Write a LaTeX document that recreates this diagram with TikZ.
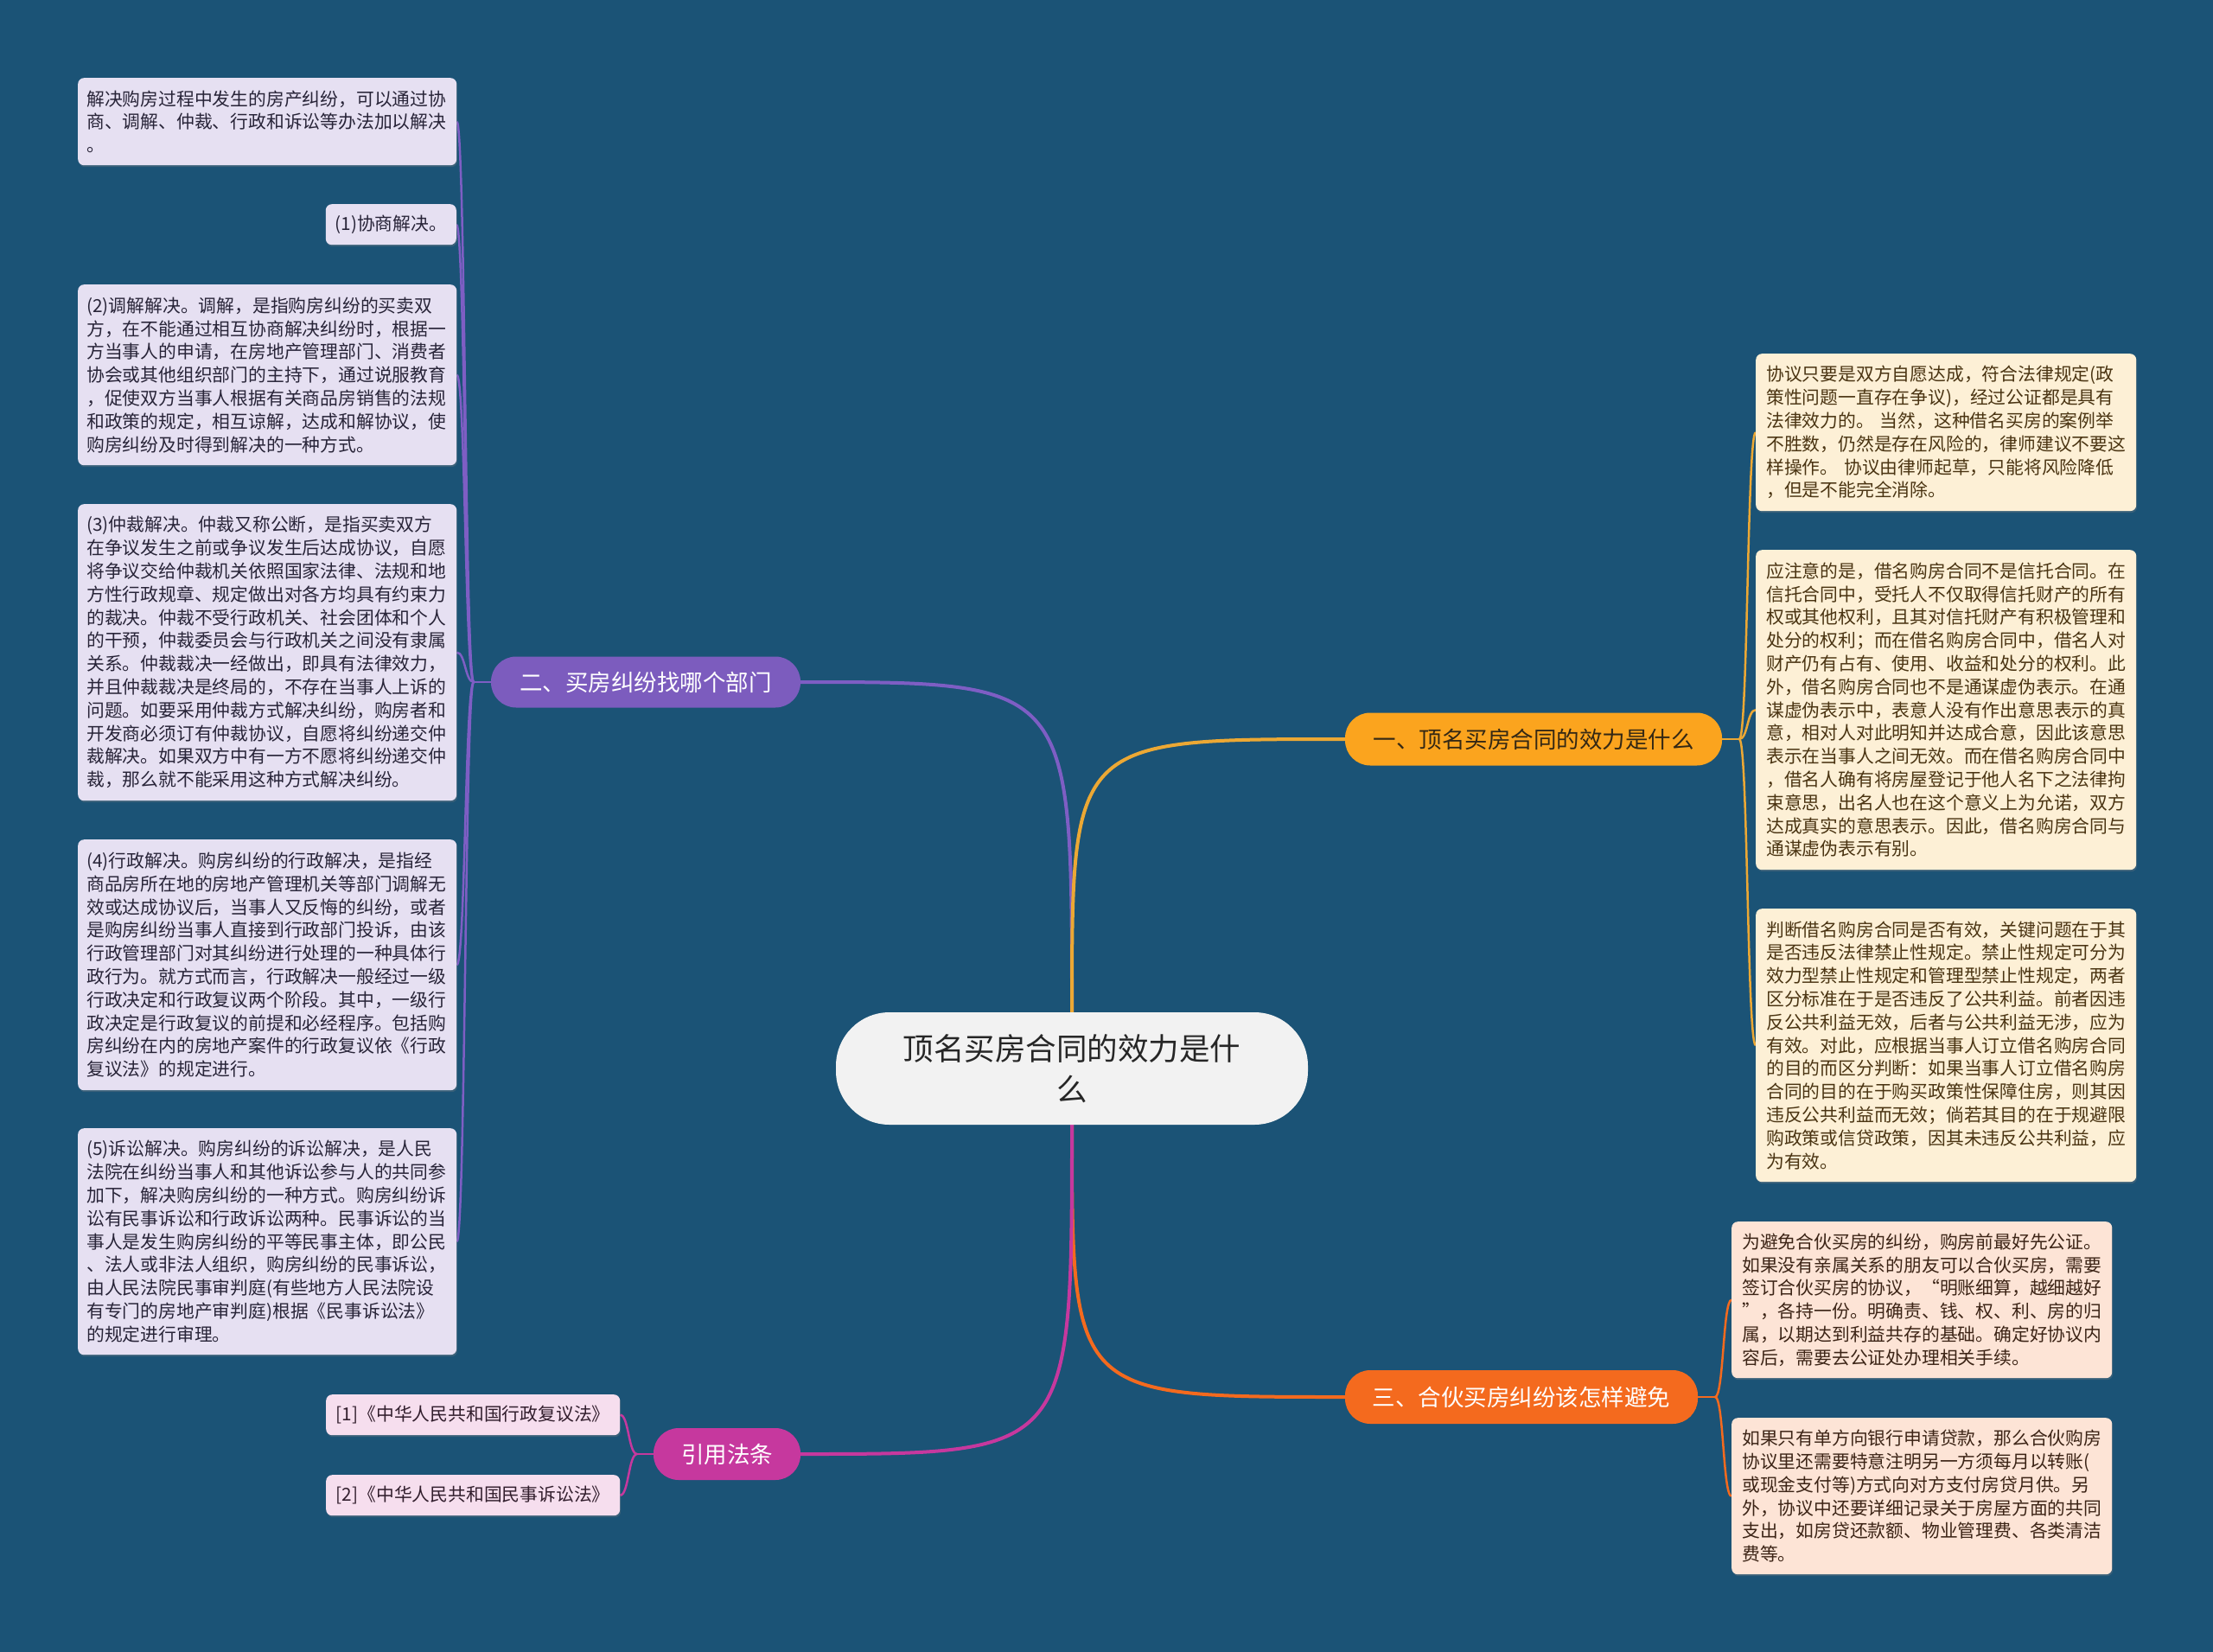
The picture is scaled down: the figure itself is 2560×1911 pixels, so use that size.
\documentclass[tikz,border=0pt]{standalone}
\usepackage{fontspec}
\setmainfont{Noto Sans CJK SC}
\usetikzlibrary{calc,shadows,backgrounds}
\definecolor{bgc}{RGB}{27,83,118}
\definecolor{cfill}{RGB}{242,242,242}
\definecolor{pur}{RGB}{124,92,190}
\definecolor{purline}{RGB}{126,94,196}
\definecolor{org}{RGB}{251,164,30}
\definecolor{orgline}{RGB}{236,168,52}
\definecolor{ored}{RGB}{244,106,30}
\definecolor{mag}{RGB}{198,56,158}
\definecolor{pleaf}{RGB}{230,224,242}
\definecolor{oleaf}{RGB}{253,240,214}
\definecolor{rleaf}{RGB}{253,228,214}
\definecolor{mleaf}{RGB}{246,222,238}
\definecolor{ptext}{RGB}{40,36,56}
\definecolor{otext}{RGB}{74,52,18}
\definecolor{rtext}{RGB}{60,36,22}
\definecolor{mtext}{RGB}{50,30,45}
\definecolor{btext}{RGB}{52,40,20}
\newcommand\lffont{\fontsize{20.8pt}{26.8pt}\selectfont}
\newcommand\brfont{\fontsize{26.5pt}{32pt}\selectfont}
\newcommand\ctfont{\fontsize{35.5pt}{47pt}\selectfont}
\begin{document}
\begin{tikzpicture}[x=1pt,y=-1pt,
  leafbox/.style={rounded corners=7pt, inner xsep=10pt, inner ysep=0pt, align=left, font=\lffont,
    drop shadow={opacity=0.3, shadow xshift=1pt, shadow yshift=-2pt}},
  pleafbox/.style={leafbox, fill=pleaf, text=ptext, anchor=north west, text width=418pt},
  oleafbox/.style={leafbox, fill=oleaf, text=otext, anchor=north west, inner xsep=12pt, text width=416pt},
  rleafbox/.style={leafbox, fill=rleaf, text=rtext, anchor=north west, inner xsep=12pt, text width=416pt},
  mleafbox/.style={leafbox, fill=mleaf, text=mtext, anchor=north west, minimum width=340pt, minimum height=47pt, align=center},
  branch/.style={rounded corners=29pt, inner sep=0pt, font=\brfont, align=center},
  mainline/.style={line width=4pt},
  leafline/.style={line width=2.5pt}
]
\useasboundingbox (0,0) rectangle (2560,1911);

% center
\node[fill=cfill, rounded corners=62pt, minimum width=546pt, minimum height=130pt, align=center,
  font=\ctfont, text=black!85] (C) at (1240,1236) {顶名买房合同的效力是什\\么};

% branches
\node[branch, fill=org, text=btext, minimum width=436pt, minimum height=61pt] (B1) at (1774,855) {一、顶名买房合同的效力是什么};
\node[branch, fill=pur, text=white, minimum width=358pt, minimum height=59pt] (B2) at (747,789) {二、买房纠纷找哪个部门};
\node[branch, fill=ored, text=white, minimum width=408pt, minimum height=62pt] (B3) at (1760,1616) {三、合伙买房纠纷该怎样避免};
\node[branch, fill=mag, text=white, minimum width=170pt, minimum height=60pt] (B4) at (841,1682) {引用法条};

% left leaves
\node[pleafbox, minimum height=101pt] (L0) at (90,90) {解决购房过程中发生的房产纠纷，可以通过协\\商、调解、仲裁、行政和诉讼等办法加以解决\\。};
\node[leafbox, fill=pleaf, text=ptext, anchor=north east, minimum width=151pt, minimum height=47pt, align=center] (L1) at (528,236) {(1)协商解决。};
\node[pleafbox, minimum height=209pt] (L2) at (90,329) {(2)调解解决。调解，是指购房纠纷的买卖双\\方，在不能通过相互协商解决纠纷时，根据一\\方当事人的申请，在房地产管理部门、消费者\\协会或其他组织部门的主持下，通过说服教育\\，促使双方当事人根据有关商品房销售的法规\\和政策的规定，相互谅解，达成和解协议，使\\购房纠纷及时得到解决的一种方式。};
\node[pleafbox, minimum height=343pt] (L3) at (90,583) {(3)仲裁解决。仲裁又称公断，是指买卖双方\\在争议发生之前或争议发生后达成协议，自愿\\将争议交给仲裁机关依照国家法律、法规和地\\方性行政规章、规定做出对各方均具有约束力\\的裁决。仲裁不受行政机关、社会团体和个人\\的干预，仲裁委员会与行政机关之间没有隶属\\关系。仲裁裁决一经做出，即具有法律效力，\\并且仲裁裁决是终局的，不存在当事人上诉的\\问题。如要采用仲裁方式解决纠纷，购房者和\\开发商必须订有仲裁协议，自愿将纠纷递交仲\\裁解决。如果双方中有一方不愿将纠纷递交仲\\裁，那么就不能采用这种方式解决纠纷。};
\node[pleafbox, minimum height=290pt] (L4) at (90,971) {(4)行政解决。购房纠纷的行政解决，是指经\\商品房所在地的房地产管理机关等部门调解无\\效或达成协议后，当事人又反悔的纠纷，或者\\是购房纠纷当事人直接到行政部门投诉，由该\\行政管理部门对其纠纷进行处理的一种具体行\\政行为。就方式而言，行政解决一般经过一级\\行政决定和行政复议两个阶段。其中，一级行\\政决定是行政复议的前提和必经程序。包括购\\房纠纷在内的房地产案件的行政复议依《行政\\复议法》的规定进行。};
\node[pleafbox, minimum height=262pt] (L5) at (90,1305) {(5)诉讼解决。购房纠纷的诉讼解决，是人民\\法院在纠纷当事人和其他诉讼参与人的共同参\\加下，解决购房纠纷的一种方式。购房纠纷诉\\讼有民事诉讼和行政诉讼两种。民事诉讼的当\\事人是发生购房纠纷的平等民事主体，即公民\\、法人或非法人组织，购房纠纷的民事诉讼，\\由人民法院民事审判庭(有些地方人民法院设\\有专门的房地产审判庭)根据《民事诉讼法》\\的规定进行审理。};

% right leaves (branch 1)
\node[oleafbox, minimum height=182pt] (R1) at (2031,409) {协议只要是双方自愿达成，符合法律规定(政\\策性问题一直存在争议)，经过公证都是具有\\法律效力的。~当然，这种借名买房的案例举\\不胜数，仍然是存在风险的，律师建议不要这\\样操作。~协议由律师起草，只能将风险降低\\，但是不能完全消除。};
\node[oleafbox, minimum height=370pt] (R2) at (2031,636) {应注意的是，借名购房合同不是信托合同。在\\信托合同中，受托人不仅取得信托财产的所有\\权或其他权利，且其对信托财产有积极管理和\\处分的权利；而在借名购房合同中，借名人对\\财产仍有占有、使用、收益和处分的权利。此\\外，借名购房合同也不是通谋虚伪表示。在通\\谋虚伪表示中，表意人没有作出意思表示的真\\意，相对人对此明知并达成合意，因此该意思\\表示在当事人之间无效。而在借名购房合同中\\，借名人确有将房屋登记于他人名下之法律拘\\束意思，出名人也在这个意义上为允诺，双方\\达成真实的意思表示。因此，借名购房合同与\\通谋虚伪表示有别。};
\node[oleafbox, minimum height=316pt] (R3) at (2031,1051) {判断借名购房合同是否有效，关键问题在于其\\是否违反法律禁止性规定。禁止性规定可分为\\效力型禁止性规定和管理型禁止性规定，两者\\区分标准在于是否违反了公共利益。前者因违\\反公共利益无效，后者与公共利益无涉，应为\\有效。对此，应根据当事人订立借名购房合同\\的目的而区分判断：如果当事人订立借名购房\\合同的目的在于购买政策性保障住房，则其因\\违反公共利益而无效；倘若其目的在于规避限\\购政策或信贷政策，因其未违反公共利益，应\\为有效。};

% right leaves (branch 3)
\node[rleafbox, minimum height=181pt] (R4) at (2003,1413) {为避免合伙买房的纠纷，购房前最好先公证。\\如果没有亲属关系的朋友可以合伙买房，需要\\签订合伙买房的协议，“明账细算，越细越好\\”，各持一份。明确责、钱、权、利、房的归\\属，以期达到利益共存的基础。确定好协议内\\容后，需要去公证处办理相关手续。};
\node[rleafbox, minimum height=181pt] (R5) at (2003,1640) {如果只有单方向银行申请贷款，那么合伙购房\\协议里还需要特意注明另一方须每月以转账(\\或现金支付等)方式向对方支付房贷月供。另\\外，协议中还要详细记录关于房屋方面的共同\\支出，如房贷还款额、物业管理费、各类清洁\\费等。};

% citations
\node[mleafbox] (M1) at (377,1613) {[1]《中华人民共和国行政复议法》};
\node[mleafbox] (M2) at (377,1706) {[2]《中华人民共和国民事诉讼法》};

\begin{scope}[on background layer]
\fill[bgc] (0,0) rectangle (2560,1911);
% main connectors
\draw[mainline, purline] (C.north) .. controls (C.north |- B2.east) .. (B2.east);
\draw[mainline, orgline] (C.north) .. controls (C.north |- B1.west) .. (B1.west);
\draw[mainline, ored] (C.south) .. controls (C.south |- B3.west) .. (B3.west);
\draw[mainline, mag] (C.south) .. controls (C.south |- B4.east) .. (B4.east);
% leaf connectors
\coordinate (p2) at (548,789);
\draw[leafline, purline] (B2.west) -- (p2);
\foreach \n in {L0,L1,L2,L3,L4,L5}
  \draw[leafline, purline] (p2) .. controls ($(p2)+(-10,0)$) and ($(\n.east)+(10,0)$) .. (\n.east);
\coordinate (p1) at (2012,855);
\draw[leafline, orgline] (B1.east) -- (p1);
\foreach \n in {R1,R2,R3}
  \draw[leafline, orgline] (p1) .. controls ($(p1)+(10,0)$) and ($(\n.west)+(-10,0)$) .. (\n.west);
\coordinate (p3) at (1984,1616);
\draw[leafline, ored] (B3.east) -- (p3);
\foreach \n in {R4,R5}
  \draw[leafline, ored] (p3) .. controls ($(p3)+(10,0)$) and ($(\n.west)+(-10,0)$) .. (\n.west);
\coordinate (p4) at (737,1682);
\draw[leafline, mag] (B4.west) -- (p4);
\foreach \n in {M1,M2}
  \draw[leafline, mag] (p4) .. controls ($(p4)+(-10,0)$) and ($(\n.east)+(10,0)$) .. (\n.east);
\end{scope}
\end{tikzpicture}
\end{document}
